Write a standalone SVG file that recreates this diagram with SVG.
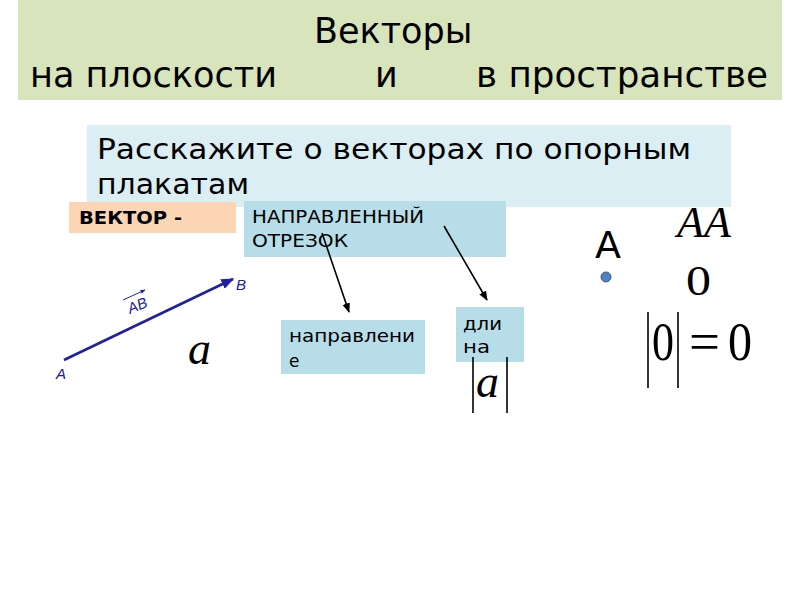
<svg xmlns="http://www.w3.org/2000/svg" width="800" height="600" viewBox="0 0 800 600">
<style>
.t{font-family:"DejaVu Sans",sans-serif;fill:#000}
.m{font-family:"Liberation Serif","DejaVu Serif",serif;fill:#000}
.bl{font-family:"Liberation Sans","DejaVu Sans",sans-serif;fill:#2020a0;font-style:italic}
.c{stroke:#000;stroke-width:1.6;fill:none}
.bar{stroke:#000;stroke-width:1.6}
</style>
<defs>
<marker id="ah" viewBox="0 0 10 10" refX="9" refY="5" markerWidth="6" markerHeight="6" orient="auto"><path d="M0,1 L10,5 L0,9 Z" fill="#000"/></marker>
<marker id="bh" viewBox="0 0 10 10" refX="9" refY="5" markerWidth="5" markerHeight="5" orient="auto"><path d="M0,1 L10,5 L0,9 Z" fill="#2020a0"/></marker>
</defs>
<rect width="800" height="600" fill="#fff"/>
<g id="title">
<rect x="18" y="0" width="764" height="100" fill="#d8e4bc"/>
<text class="t" x="314" y="43" font-size="35">Векторы</text>
<text class="t" x="30" y="87" font-size="35" textLength="247" lengthAdjust="spacingAndGlyphs">на плоскости</text>
<text class="t" x="375" y="87" font-size="35">и</text>
<text class="t" x="476" y="87" font-size="35" textLength="292" lengthAdjust="spacingAndGlyphs">в пространстве</text>
</g>
<g id="prompt">
<rect x="87" y="125" width="644" height="82" fill="#dbeef4"/>
<text class="t" x="97" y="159" font-size="28" textLength="594" lengthAdjust="spacingAndGlyphs">Расскажите о векторах по опорным</text>
<text class="t" x="97" y="194" font-size="28" textLength="152" lengthAdjust="spacingAndGlyphs">плакатам</text>
</g>
<g id="vector-label">
<rect x="69" y="202" width="167" height="31" fill="#fcd5b4"/>
<text class="t" x="79" y="224" font-size="17" font-weight="bold" textLength="103" lengthAdjust="spacingAndGlyphs">ВЕКТОР -</text>
</g>
<g id="definition">
<rect x="244" y="201" width="262" height="56" fill="#b7dde8"/>
<text class="t" x="252" y="223" font-size="18" textLength="172" lengthAdjust="spacingAndGlyphs">НАПРАВЛЕННЫЙ</text>
<text class="t" x="252" y="247" font-size="18" textLength="96" lengthAdjust="spacingAndGlyphs">ОТРЕЗОК</text>
</g>
<g id="direction">
<rect x="281" y="320" width="144" height="54" fill="#b7dde8"/>
<text class="t" x="289" y="342" font-size="17" textLength="126" lengthAdjust="spacingAndGlyphs">направлени</text>
<text class="t" x="289" y="367" font-size="17">е</text>
</g>
<g id="length">
<rect x="456" y="307" width="68" height="55" fill="#b7dde8"/>
<text class="t" x="463" y="330" font-size="17" textLength="39" lengthAdjust="spacingAndGlyphs">дли</text>
<text class="t" x="463" y="353" font-size="17" textLength="27" lengthAdjust="spacingAndGlyphs">на</text>
</g>
<g id="vector-ab">
<line x1="64" y1="360" x2="233" y2="279" stroke="#2020a0" stroke-width="2.6" marker-end="url(#bh)"/>
<text class="bl" x="56" y="379" font-size="15">A</text>
<text class="bl" x="236" y="290" font-size="15">B</text>
<text class="bl" x="0" y="0" font-size="15" transform="translate(130,314) rotate(-22)">AB</text>
<line x1="123" y1="300" x2="145" y2="290" stroke="#2020a0" stroke-width="1" marker-end="url(#bh)"/>
</g>
<g id="a-symbol">
<text class="m" x="188" y="364" font-size="46" font-style="italic">a</text>
</g>
<g id="abs-a">
<line class="bar" x1="473" y1="357" x2="473" y2="413"/>
<line class="bar" x1="507" y1="357" x2="507" y2="413"/>
<text class="m" x="476" y="397" font-size="46" font-style="italic">a</text>
</g>
<g id="point-a">
<text x="595" y="258" font-size="38" font-family="DejaVu Sans,sans-serif">A</text>
<circle cx="606" cy="277" r="5" fill="#4f81bd" stroke="#385d8a" stroke-width="1"/>
</g>
<g id="zero-vector">
<text class="m" x="677" y="237" font-size="44" font-style="italic" textLength="54" lengthAdjust="spacingAndGlyphs">AA</text>
<text class="m" x="686" y="295" font-size="42" textLength="25" lengthAdjust="spacingAndGlyphs">0</text>
</g>
<g id="zero-length">
<line class="bar" x1="648" y1="312" x2="648" y2="388"/>
<line class="bar" x1="678" y1="312" x2="678" y2="388"/>
<text class="m" x="652" y="360" font-size="55" textLength="22" lengthAdjust="spacingAndGlyphs">0</text>
<text class="m" x="689" y="360" font-size="55" textLength="31" lengthAdjust="spacingAndGlyphs">=</text>
<text class="m" x="728" y="360" font-size="55" textLength="24" lengthAdjust="spacingAndGlyphs">0</text>
</g>
<g id="connectors">
<line class="c" x1="322" y1="233" x2="349" y2="312" marker-end="url(#ah)"/>
<line class="c" x1="444" y1="226" x2="487" y2="300" marker-end="url(#ah)"/>
</g>
</svg>
